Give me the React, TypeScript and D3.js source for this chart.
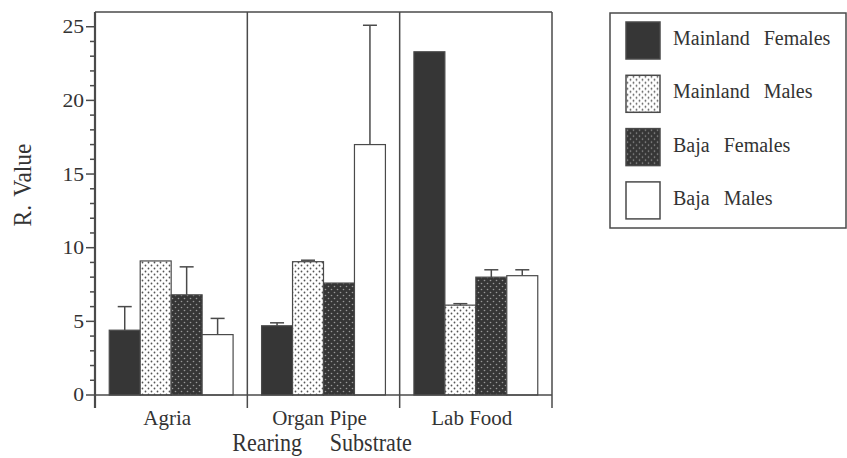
import React from "react";
import * as d3 from "d3";

const categories = ["Agria", "Organ Pipe", "Lab Food"];
const seriesNames = ["Mainland Females", "Mainland Males", "Baja Females", "Baja Males"];
// values per series across categories
const mainlandFemales = [4.4, 4.7, 23.3];
const mainlandMales = [9.1, 9.05, 6.1];
const bajaFemales = [6.8, 7.6, 8.0];
const bajaMales = [4.1, 17.0, 8.1];
// error bar (upper) magnitudes
const mainlandFemalesErr = [1.6, 0.2, 0];
const mainlandMalesErr = [0, 0.1, 0.1];
const bajaFemalesErr = [1.9, 0, 0.5];
const bajaMalesErr = [1.1, 8.1, 0.4];
const yTicks = [0, 5, 10, 15, 20, 25];

const seriesValues = [mainlandFemales, mainlandMales, bajaFemales, bajaMales];
const seriesErrors = [mainlandFemalesErr, mainlandMalesErr, bajaFemalesErr, bajaMalesErr];
const fills = ["#363636", "url(#dotsLight)", "url(#dotsDark)", "#ffffff"];

const W = 847;
const H = 458;
const left = 95;
const right = 552;
const top = 12;
const bottom = 395;
const line = "#4a4a4a";
const FONT = "Liberation Serif";

function T(props: any) {
  const { style, children, ...rest } = props;
  return (
    <text fontFamily={FONT} fill="#333" {...rest} style={{ fontFamily: `"${FONT}"`, ...(style || {}) }}>
      {children}
    </text>
  );
}

export default function App() {
  const x = d3.scaleBand<string>().domain(categories).range([left, right]).paddingInner(0).paddingOuter(0);
  const xs = d3.scaleBand<string>().domain(seriesNames).range([0, x.bandwidth()]).paddingInner(0).paddingOuter(0.46);
  const y = d3.scaleLinear().domain([0, 26]).range([bottom, top]);
  const minor = d3.range(0, 26, 1).filter((v) => v % 5 !== 0);
  const boundaries = categories.map((c) => x(c) as number).concat([right]);

  return (
    <svg width={W} height={H} style={{ position: "absolute", left: 0, top: 0, background: "#fff" }}>
      <defs>
        <pattern id="dotsLight" width="6" height="6" patternUnits="userSpaceOnUse">
          <rect width="6" height="6" fill="#ffffff" />
          <circle cx="1.5" cy="1.5" r="0.9" fill="#555" />
          <circle cx="4.5" cy="4.5" r="0.9" fill="#555" />
        </pattern>
        <pattern id="dotsDark" width="6" height="6" patternUnits="userSpaceOnUse">
          <rect width="6" height="6" fill="#363636" />
          <circle cx="1.5" cy="1.5" r="0.8" fill="#999" />
          <circle cx="4.5" cy="4.5" r="0.8" fill="#999" />
        </pattern>
      </defs>

      {/* bars */}
      {categories.map((c, ci) => (
        <g key={c}>
          {seriesNames.map((s, si) => {
            const bx = (x(c) as number) + (xs(s) as number);
            const v = seriesValues[si][ci];
            const e = seriesErrors[si][ci];
            const cx = bx + xs.bandwidth() / 2;
            return (
              <g key={s}>
                {e > 0 && (
                  <g stroke={line} strokeWidth={1.5}>
                    <line x1={cx} x2={cx} y1={y(v)} y2={y(v + e)} />
                    <line x1={cx - 7} x2={cx + 7} y1={y(v + e)} y2={y(v + e)} />
                  </g>
                )}
                <rect x={bx} y={y(v)} width={xs.bandwidth()} height={bottom - y(v)} fill={fills[si]} stroke={line} strokeWidth={1.2} />
              </g>
            );
          })}
        </g>
      ))}

      {/* frame & dividers */}
      <line x1={left} x2={right} y1={top} y2={top} stroke={line} strokeWidth={1.5} />
      <line x1={left} x2={right} y1={bottom} y2={bottom} stroke={line} strokeWidth={1.5} />
      {boundaries.map((b, i) => (
        <line key={i} x1={b} x2={b} y1={top} y2={bottom + 13} stroke={line} strokeWidth={i === 0 ? 2.2 : 1.5} />
      ))}

      {/* y ticks */}
      {yTicks.map((t) => (
        <g key={t}>
          <line x1={left - 9} x2={left} y1={y(t)} y2={y(t)} stroke={line} strokeWidth={1.5} />
          <T transform={`translate(84, ${y(t)}) scale(1.2, 1)`} dy="0.36em" textAnchor="end" fontSize={18}>{t}</T>
        </g>
      ))}
      {minor.map((t) => (
        <line key={t} x1={left - 5} x2={left} y1={y(t)} y2={y(t)} stroke={line} strokeWidth={1.5} />
      ))}

      {/* x labels */}
      {categories.map((c) => (
        <T key={c} x={(x(c) as number) + x.bandwidth() / 2 - 4} y={425} textAnchor="middle" fontSize={21}>{c}</T>
      ))}
      <T transform="translate(322, 451) scale(0.85, 1)" textAnchor="middle" fontSize={26} style={{ wordSpacing: "26px" }}>Rearing Substrate</T>
      <T transform="translate(31, 185) rotate(-90) scale(0.9, 1)" textAnchor="middle" fontSize={26} style={{ wordSpacing: "3px" }}>R. Value</T>

      {/* legend */}
      <rect x={610} y={13} width={236} height={215} fill="none" stroke={line} strokeWidth={1.5} />
      {seriesNames.map((s, i) => (
        <g key={s} transform={`translate(626, ${22 + i * 53.3})`}>
          <rect width={34} height={37} fill={fills[i]} stroke={line} strokeWidth={1.5} />
          <T x={47} y={23} fontSize={20} style={{ wordSpacing: "9px" }}>{s}</T>
        </g>
      ))}
    </svg>
  );
}
